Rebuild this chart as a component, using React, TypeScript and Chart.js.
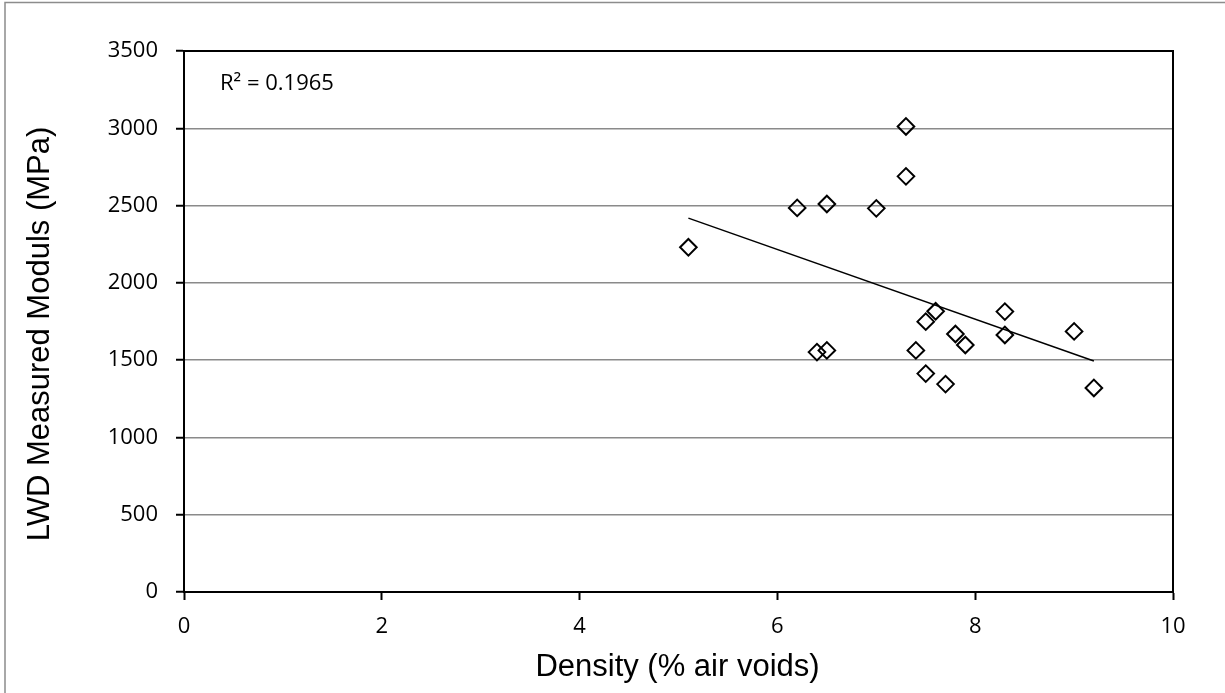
import React, { useEffect, useRef } from "react";
import { Chart, registerables } from "chart.js";

Chart.register(...registerables);

// Measured points: density (% air voids) vs LWD modulus (MPa)
const densityValues = [5.1, 6.2, 6.5, 7.0, 7.3, 7.3, 6.4, 6.5, 7.4, 7.5, 7.7, 7.5, 7.6, 7.8, 7.9, 8.3, 8.3, 9.0, 9.2];
const modulusValues = [2230, 2485, 2510, 2482, 3012, 2689, 1552, 1563, 1563, 1413, 1345, 1749, 1816, 1669, 1598, 1814, 1663, 1686, 1320];

// Linear trendline end points (as drawn)
const trendX = [5.1, 9.2];
const trendY = [2419, 1494];

const xTicks = [0, 2, 4, 6, 8, 10];
const yTicks = [0, 500, 1000, 1500, 2000, 2500, 3000, 3500];

const rSquaredLabel = "R\u00B2 = 0.1965";
const xTitle = "Density (% air voids)";
const yTitle = "LWD Measured Moduls (MPa)";

const TICK_FONT = '"Open Sans", sans-serif';
const TITLE_FONT = '"Liberation Sans", Arial, sans-serif';

export default function App() {
  const canvasRef = useRef<HTMLCanvasElement | null>(null);

  useEffect(() => {
    document.body.style.margin = "0";
    const canvas = canvasRef.current;
    if (!canvas) return;

    const decor = {
      id: "decor",
      beforeDraw(chart: any) {
        const ctx = chart.ctx;
        ctx.save();
        ctx.fillStyle = "#ffffff";
        ctx.fillRect(0, 0, chart.width, chart.height);
        ctx.strokeStyle = "#8c8c8c";
        ctx.lineWidth = 1.5;
        ctx.beginPath();
        ctx.moveTo(5, chart.height);
        ctx.lineTo(5, 2.5);
        ctx.lineTo(chart.width, 2.5);
        ctx.stroke();
        ctx.restore();
      },
      afterDatasetsDraw(chart: any) {
        const ctx = chart.ctx;
        const a = chart.chartArea;
        ctx.save();
        ctx.strokeStyle = "#000";
        ctx.lineWidth = 2;
        ctx.strokeRect(a.left, a.top, a.right - a.left, a.bottom - a.top);
        ctx.restore();
      },
      afterDraw(chart: any) {
        const ctx = chart.ctx;
        const a = chart.chartArea;
        ctx.save();
        ctx.fillStyle = "#000";
        // R² label
        ctx.font = `22px ${TICK_FONT}`;
        ctx.textAlign = "left";
        ctx.textBaseline = "alphabetic";
        ctx.fillText(rSquaredLabel, 220, 90);
        // x title
        ctx.font = `31px ${TITLE_FONT}`;
        ctx.textAlign = "center";
        ctx.textBaseline = "middle";
        ctx.fillText(xTitle, (a.left + a.right) / 2 - 1, 667);
        // y title
        ctx.translate(40, 334);
        ctx.rotate(-Math.PI / 2);
        ctx.fillText(yTitle, 0, 0);
        ctx.restore();
      },
    };

    const chart = new Chart(canvas, {
      type: "scatter",
      data: {
        datasets: [
          {
            type: "scatter",
            label: "Measured",
            data: densityValues.map((x, i) => ({ x, y: modulusValues[i] })),
            pointStyle: "rectRot",
            pointRadius: 8.3,
            pointHoverRadius: 8.3,
            pointBorderWidth: 2,
            pointBorderColor: "#000",
            pointBackgroundColor: "rgba(0,0,0,0)",
            borderColor: "#000",
            backgroundColor: "rgba(0,0,0,0)",
            order: 2,
          },
          {
            type: "line",
            label: "Trend",
            data: trendX.map((x, i) => ({ x, y: trendY[i] })),
            borderColor: "#000",
            borderWidth: 1.5,
            pointRadius: 0,
            fill: false,
            order: 1,
          },
        ],
      },
      options: {
        animation: false,
        responsive: true,
        maintainAspectRatio: false,
        events: [],
        layout: {
          autoPadding: false,
          padding: { left: 0, top: 51, right: 52, bottom: 0 },
        },
        plugins: {
          legend: { display: false },
          tooltip: { enabled: false },
          title: { display: false },
        },
        scales: {
          x: {
            type: "linear",
            min: 0,
            max: 10,
            afterBuildTicks(scale: any) {
              scale.ticks = xTicks.map((v) => ({ value: v }));
            },
            afterFit(scale: any) {
              scale.height = 101;
            },
            ticks: {
              color: "#000",
              font: { family: TICK_FONT, size: 22 },
              padding: 14,
              maxRotation: 0,
              callback: (v: any) => String(v),
            },
            grid: {
              drawOnChartArea: false,
              drawTicks: true,
              tickLength: 8,
              tickColor: "#000",
              tickWidth: 2,
            },
            border: { color: "#000", width: 2 },
          },
          y: {
            type: "linear",
            min: 0,
            max: 3500,
            afterBuildTicks(scale: any) {
              scale.ticks = yTicks.map((v) => ({ value: v }));
            },
            afterFit(scale: any) {
              scale.width = 184;
            },
            ticks: {
              color: "#000",
              font: { family: TICK_FONT, size: 22 },
              padding: 18,
              callback: (v: any) => String(v),
            },
            grid: {
              color: "#8a8a8a",
              lineWidth: 1.5,
              drawTicks: true,
              tickLength: 8,
              tickColor: "#000",
              tickWidth: 2,
            },
            border: { color: "#000", width: 2 },
          },
        },
      },
      plugins: [decor],
    } as any);

    return () => {
      chart.destroy();
    };
  }, []);

  return (
    <div style={{ position: "fixed", left: 0, top: 0, width: 1225, height: 693 }}>
      <canvas ref={canvasRef} />
    </div>
  );
}
